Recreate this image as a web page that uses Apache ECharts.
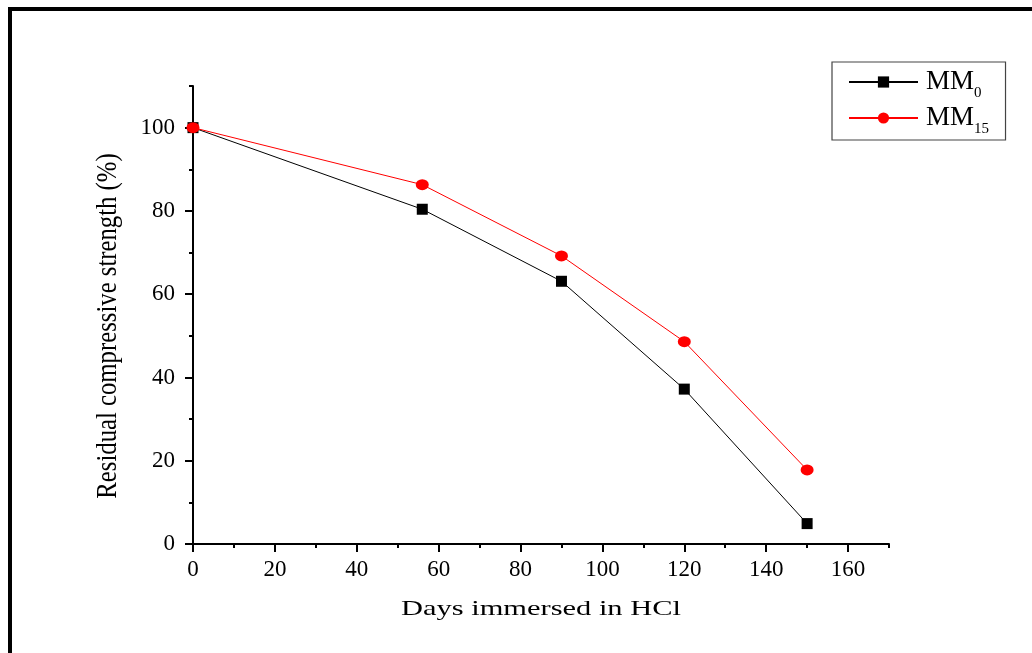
<!DOCTYPE html>
<html>
<head>
<meta charset="utf-8">
<script src="https://cdn.jsdelivr.net/npm/echarts@6/dist/echarts.min.js"></script>
<style>
html,body{margin:0;padding:0;background:#fff;}
#chart{width:1032px;height:653px;}
</style>
</head>
<body>
<div id="chart"></div>
<script>
// Data
const days = [0, 56, 90, 120, 150];
const mm0 = [100, 80.4, 63.1, 37.2, 4.9];
const mm15 = [100, 86.3, 69.2, 48.6, 17.8];
const xTickLabels = [0, 20, 40, 60, 80, 100, 120, 140, 160];
const yTickLabels = [0, 20, 40, 60, 80, 100];
const seriesNames = ['MM0', 'MM15'];
const xTitle = 'Days immersed in HCl';
const yTitle = 'Residual compressive strength (%)';

const FONT = '"Liberation Serif", "DejaVu Serif", serif';
const chart = echarts.init(document.getElementById('chart'), null, {renderer: 'canvas'});

function pairs(xs, ys) { return xs.map((x, i) => [x, ys[i]]); }

const axisBase = {
  type: 'value',
  splitLine: {show: false},
};

chart.setOption({
  backgroundColor: '#fff',
  animation: false,
  grid: {left: 193, right: 143, top: 86, bottom: 109, containLabel: false},
  xAxis: [
    Object.assign({}, axisBase, {
      min: 0, max: 170, interval: 10, position: 'bottom',
      axisLine: {show: true, onZero: false, lineStyle: {color: '#000', width: 2}},
      axisTick: {show: true, inside: false, length: 4, lineStyle: {color: '#000', width: 2}},
      axisLabel: {show: true, customValues: xTickLabels, margin: 14, color: '#000', fontFamily: FONT, fontSize: 23}
    }),
    Object.assign({}, axisBase, {
      min: 0, max: 170, interval: 10, position: 'bottom', offset: 0,
      axisLine: {show: false},
      axisTick: {show: true, inside: false, length: 8, customValues: xTickLabels, lineStyle: {color: '#000', width: 2}},
      axisLabel: {show: false}
    })
  ],
  yAxis: [
    Object.assign({}, axisBase, {
      min: 0, max: 110, interval: 10, position: 'left',
      axisLine: {show: true, onZero: false, lineStyle: {color: '#000', width: 2}},
      axisTick: {show: true, inside: false, length: 4, lineStyle: {color: '#000', width: 2}},
      axisLabel: {show: true, customValues: yTickLabels, margin: 18, color: '#000', fontFamily: FONT, fontSize: 23}
    }),
    Object.assign({}, axisBase, {
      min: 0, max: 110, interval: 10, position: 'left', offset: 0,
      axisLine: {show: false},
      axisTick: {show: true, inside: false, length: 8, customValues: yTickLabels, lineStyle: {color: '#000', width: 2}},
      axisLabel: {show: false}
    })
  ],
  legend: {
    orient: 'vertical',
    left: 832, top: 62,
    padding: [6, 16, 3, 16],
    itemWidth: 69, itemHeight: 14, itemGap: 3,
    borderColor: '#444', borderWidth: 1.2,
    data: seriesNames,
    formatter: function (name) {
      return '{m|MM}{s|' + name.slice(2) + '}{h| }';
    },
    textStyle: {
      color: '#000', fontFamily: FONT, padding: [5, 0, 0, 3],
      rich: {
        m: {fontFamily: FONT, fontSize: 27, lineHeight: 27, verticalAlign: 'top', color: '#000'},
        s: {fontFamily: FONT, fontSize: 15, lineHeight: 15, verticalAlign: 'bottom', color: '#000'},
        h: {fontFamily: FONT, fontSize: 2, lineHeight: 33, color: '#000'}
      }
    }
  },
  series: [
    {
      name: seriesNames[0], type: 'line', xAxisIndex: 0, yAxisIndex: 0,
      data: pairs(days, mm0),
      symbol: 'rect', symbolSize: 11,
      lineStyle: {color: '#000', width: 1},
      itemStyle: {color: '#000'},
      z: 3
    },
    {
      name: seriesNames[1], type: 'line', xAxisIndex: 0, yAxisIndex: 0,
      data: pairs(days, mm15),
      symbol: 'circle', symbolSize: [13, 11],
      lineStyle: {color: '#ff0000', width: 1},
      itemStyle: {color: '#ff0000'},
      z: 4
    }
  ],
  graphic: [
    {type: 'rect', shape: {x: 8, y: 7, width: 1030, height: 4}, style: {fill: '#000'}, silent: true},
    {type: 'rect', shape: {x: 8, y: 7, width: 4, height: 660}, style: {fill: '#000'}, silent: true},
    {type: 'text', x: 541, y: 609, scaleX: 1.45, scaleY: 1,
      style: {text: xTitle, fontFamily: FONT, fontSize: 21, fill: '#000', align: 'center', verticalAlign: 'middle'}, silent: true},
    {type: 'text', x: 108, y: 326, rotation: Math.PI / 2, scaleX: 1.03, scaleY: 1.25,
      style: {text: yTitle, fontFamily: FONT, fontSize: 24, fill: '#000', align: 'center', verticalAlign: 'middle'}, silent: true}
  ]
});
</script>
</body>
</html>
